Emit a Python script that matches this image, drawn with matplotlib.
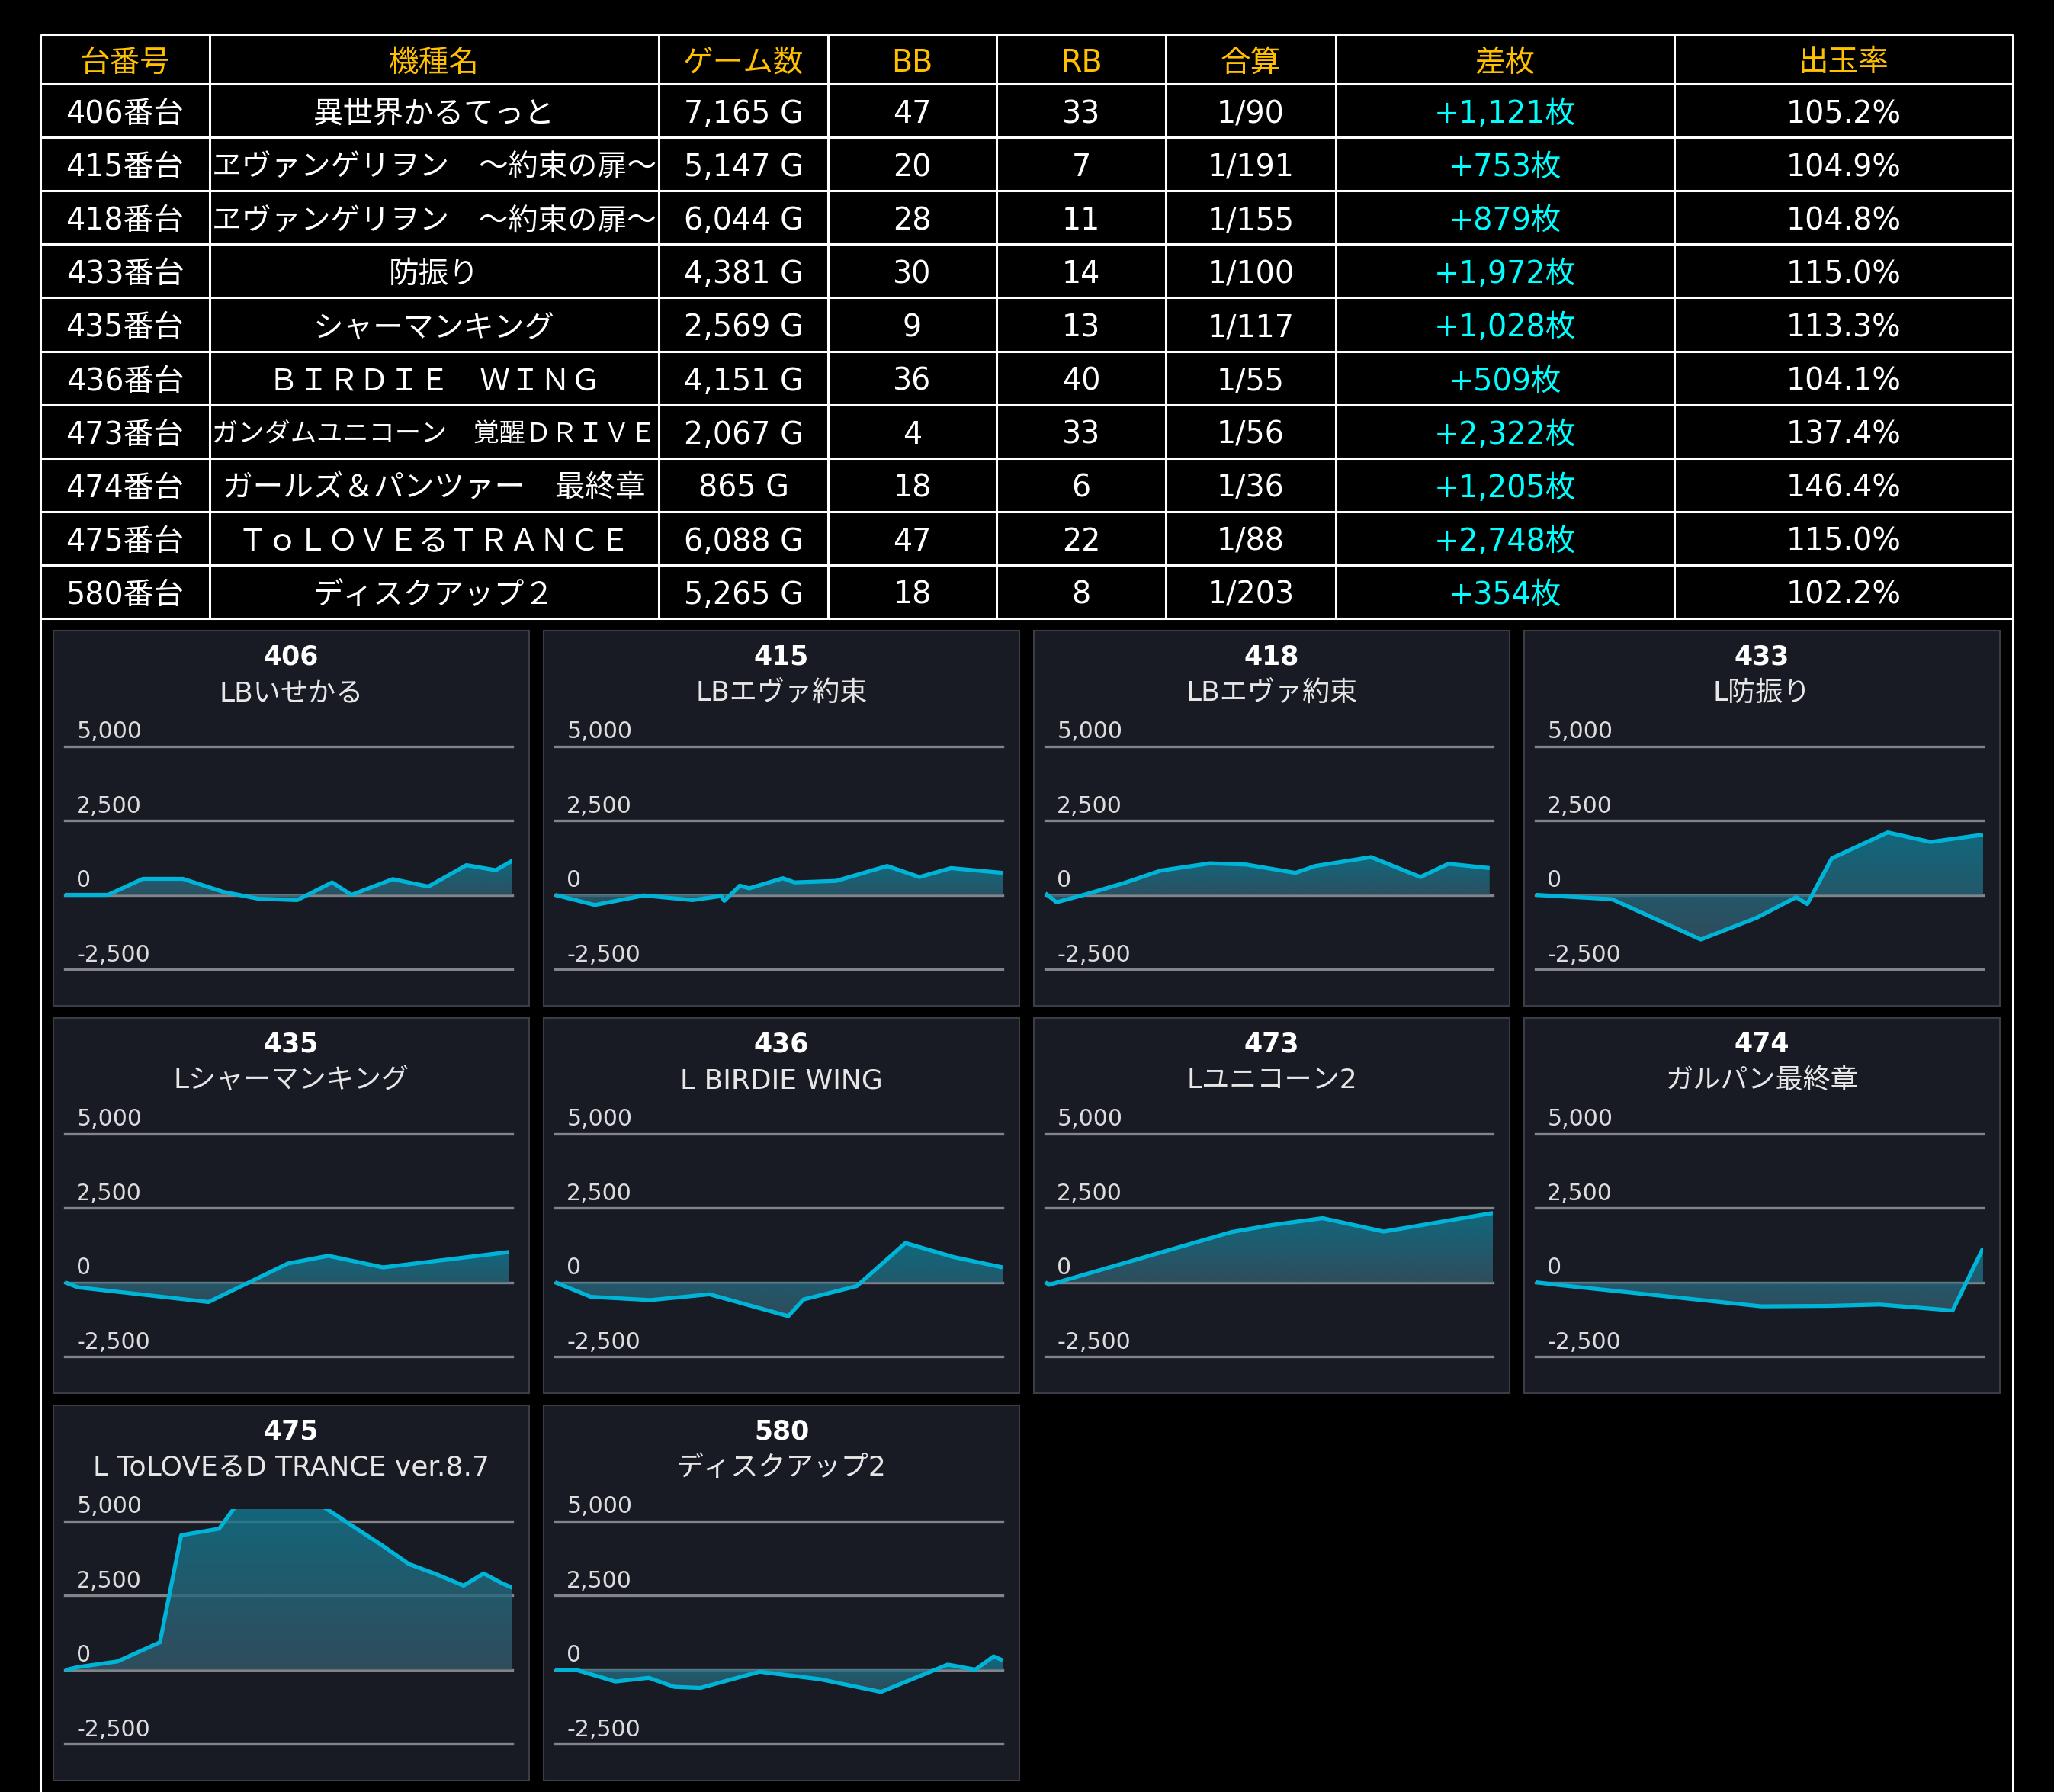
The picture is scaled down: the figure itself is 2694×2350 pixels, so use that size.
import matplotlib
matplotlib.use("Agg")
import matplotlib.pyplot as plt
import numpy as np
from matplotlib.patches import Rectangle
from matplotlib.colors import to_rgb

# ---------------- data ----------------
machine_ids = ['406番台', '415番台', '418番台', '433番台', '435番台',
               '436番台', '473番台', '474番台', '475番台', '580番台']
machine_names = ['異世界かるてっと', 'ヱヴァンゲリヲン　～約束の扉～', 'ヱヴァンゲリヲン　～約束の扉～',
                 '防振り', 'シャーマンキング', 'ＢＩＲＤＩＥ　ＷＩＮＧ',
                 'ガンダムユニコーン　覚醒ＤＲＩＶＥ', 'ガールズ＆パンツァー　最終章',
                 'ＴｏＬＯＶＥるＴＲＡＮＣＥ', 'ディスクアップ２']
games = [7165, 5147, 6044, 4381, 2569, 4151, 2067, 865, 6088, 5265]
bb = [47, 20, 28, 30, 9, 36, 4, 18, 47, 18]
rb = [33, 7, 11, 14, 13, 40, 33, 6, 22, 8]
combined = [90, 191, 155, 100, 117, 55, 56, 36, 88, 203]
diff = [1121, 753, 879, 1972, 1028, 509, 2322, 1205, 2748, 354]
payout = [105.2, 104.9, 104.8, 115.0, 113.3, 104.1, 137.4, 146.4, 115.0, 102.2]
headers = ['台番号', '機種名', 'ゲーム数', 'BB', 'RB', '合算', '差枚', '出玉率']

chart_titles = ['406', '415', '418', '433', '435', '436', '473', '474', '475', '580']
chart_subtitles = ['LBいせかる', 'LBエヴァ約束', 'LBエヴァ約束', 'L防振り', 'Lシャーマンキング',
                   'L BIRDIE WING', 'Lユニコーン2', 'ガルパン最終章',
                   'L ToLOVEるD TRANCE ver.8.7', 'ディスクアップ2']

s406_x = [0, 690, 1250, 1890, 2540, 3100, 3720, 4280, 4590, 5250, 5820, 6430, 6900, 7165]
s406_y = [0, 0, 540, 540, 100, -130, -175, 420, 0, 530, 280, 1000, 830, 1150]
s415_x = [0, 457, 1023, 1580, 1910, 1946, 2125, 2234, 2620, 2754, 3232, 3819, 4190, 4555, 5147]
s415_y = [0, -340, -20, -175, -40, -200, 310, 220, 560, 420, 470, 970, 600, 900, 740]
s418_x = [0, 151, 534, 1066, 1555, 2222, 2711, 3378, 3644, 4400, 5066, 5444, 6000]
s418_y = [55, -250, 10, 400, 815, 1060, 1020, 740, 970, 1270, 600, 1045, 900]
s433_x = [0, 748, 1617, 2164, 2552, 2660, 2900, 3447, 3866, 4381]
s433_y = [0, -145, -1500, -770, -80, -310, 1230, 2100, 1780, 2025]
s435_x = [0, 75, 825, 1280, 1513, 1827, 2551]
s435_y = [0, -170, -665, 630, 890, 500, 1017]
s436_x = [0, 332, 884, 1432, 2163, 2304, 2798, 3250, 3699, 4151]
s436_y = [0, -490, -600, -405, -1140, -580, -130, 1320, 845, 500]
s473_x = [0, 18, 860, 1042, 1281, 1563, 2067]
s473_y = [0, -85, 1690, 1920, 2155, 1705, 2330]
s474_x = [0, 49, 436, 565, 665, 806, 865]
s474_y = [0, -100, -810, -795, -750, -950, 1150]
s475_x = [0, 177, 715, 1294, 1583, 2100, 2411, 2947, 3443, 3939, 4310, 4682, 5053, 5425, 5697, 5943, 6088]
s475_y = [-20, 85, 275, 920, 4520, 4740, 5800, 5900, 5600, 4790, 4190, 3550, 3210, 2825, 3235, 2910, 2755]
s580_x = [0, 261, 709, 1102, 1404, 1710, 2407, 3122, 3834, 4620, 4944, 5159, 5265]
s580_y = [0, -20, -400, -275, -580, -615, -70, -325, -750, 170, 0, 445, 315]

series_x = [s406_x, s415_x, s418_x, s433_x, s435_x, s436_x, s473_x, s474_x, s475_x, s580_x]
series_y = [s406_y, s415_y, s418_y, s433_y, s435_y, s436_y, s473_y, s474_y, s475_y, s580_y]
y_ticks = [-2500, 0, 2500, 5000]
y_tick_labels = ['-2,500', '0', '2,500', '5,000']

# ---------------- layout ----------------
W, H = 2694, 2350
fig = plt.figure(figsize=(W / 100, H / 100), dpi=100, facecolor='black')
bg = fig.add_axes([0, 0, 1, 1])
bg.set_xlim(0, W)
bg.set_ylim(H, 0)
bg.axis('off')
bg.set_facecolor('black')

TABLE_FONT = ['DejaVu Sans', 'Noto Sans CJK JP']
PANEL_FONT = ['DejaVu Sans', 'Noto Sans CJK JP']

col_edges = [53, 275, 864, 1086, 1307, 1529, 1752, 2196, 2640]
table_top, header_bottom, row_h = 45, 110, 70.1
row_edges = [table_top, header_bottom] + [header_bottom + row_h * (i + 1) for i in range(len(machine_ids))]
table_bottom = row_edges[-1]

lw_tab = 2.2
for y in row_edges:
    bg.plot([col_edges[0], col_edges[-1]], [y, y], color='white', lw=lw_tab, solid_capstyle='butt')
for x in col_edges[1:-1]:
    bg.plot([x, x], [table_top, table_bottom], color='white', lw=lw_tab, solid_capstyle='butt')
for x in (col_edges[0], col_edges[-1]):
    bg.plot([x, x], [table_top, H], color='white', lw=lw_tab, solid_capstyle='butt')

fig.canvas.draw()
renderer = fig.canvas.get_renderer()


def cell_text(ci, y_top, y_bot, s, color, size=28.5):
    cx = (col_edges[ci] + col_edges[ci + 1]) / 2
    cy = (y_top + y_bot) / 2 + 5
    t = bg.text(cx, cy, s, color=color, fontsize=size, family=TABLE_FONT, ha='center', va='center')
    avail = col_edges[ci + 1] - col_edges[ci] - 6
    w = t.get_window_extent(renderer).width
    if w > avail:
        t.set_fontsize(size * avail / w)
    return t


gold = '#ffc000'
for ci, h in enumerate(headers):
    cell_text(ci, table_top, header_bottom, h, gold)

for ri in range(len(machine_ids)):
    yt, yb = row_edges[ri + 1], row_edges[ri + 2]
    vals = [machine_ids[ri], machine_names[ri], f'{games[ri]:,} G', str(bb[ri]), str(rb[ri]),
            f'1/{combined[ri]}', f'+{diff[ri]:,}枚', f'{payout[ri]:.1f}%']
    for ci, v in enumerate(vals):
        cell_text(ci, yt, yb, v, '#00ffff' if ci == 6 else 'white')

# ---------------- panels ----------------
panel_w, panel_h = 624, 492
panel_x0, panel_dx = 70, 643
panel_y0, panel_dy = 827, 508
grid_left, grid_right = 15, 602
plot_top, plot_bot = 136, 444
y_lo, y_hi = -2500, 5400

panel_bg = '#181b24'
line_color = '#00b4d8'
grad_top = np.array(to_rgb('#107c95'))
grad_bot = np.array(to_rgb('#36596a'))

for i in range(len(chart_titles)):
    r, c = divmod(i, 4)
    px = panel_x0 + c * panel_dx
    py = panel_y0 + r * panel_dy
    bg.add_patch(Rectangle((px, py), panel_w, panel_h, facecolor=panel_bg,
                           edgecolor='#3a3d46', lw=1.5, zorder=1))
    bg.text(px + panel_w / 2, py + 34, chart_titles[i], color='white', fontsize=25,
            fontweight='bold', family=PANEL_FONT, ha='center', va='center', zorder=3)
    bg.text(px + panel_w / 2, py + 82, chart_subtitles[i], color='#e6e6e6', fontsize=26,
            family=PANEL_FONT, ha='center', va='center', zorder=3)

    ax = fig.add_axes([(px + grid_left) / W, 1 - (py + plot_bot) / H,
                       (grid_right - grid_left) / W, (plot_bot - plot_top) / H])
    ax.patch.set_alpha(0)
    ax.axis('off')
    xs = np.array(series_x[i], dtype=float)
    ys = np.array(series_y[i], dtype=float)
    xmax = games[i]

    for v, lab in zip(y_ticks, y_tick_labels):
        ax.axhline(v, color='#82848a', lw=2.4, zorder=1, clip_on=False)
        ax.annotate(lab, xy=(0, v), xycoords=('axes fraction', 'data'),
                    xytext=(11, 7.5), textcoords='offset points', color='#dcdcdc',
                    fontsize=21.5, family=PANEL_FONT, ha='left', va='baseline', zorder=4,
                    annotation_clip=False)

    poly = ax.fill_between(xs, ys, 0, facecolor='none', edgecolor='none')
    ymin_s = min(0.0, ys.min())
    ymax_s = max(0.0, ys.max())
    n = 256
    tt = np.linspace(0, 1, n)[:, None]
    rgb = grad_bot[None, :] * (1 - tt) + grad_top[None, :] * tt
    rgba = np.concatenate([rgb, np.full((n, 1), 0.8)], axis=1)[:, None, :]
    im = ax.imshow(rgba, extent=[0, xmax, ymin_s, ymax_s], origin='lower',
                   aspect='auto', zorder=2, interpolation='bilinear')
    im.set_clip_path(poly.get_paths()[0], transform=ax.transData)
    ax.plot(xs, ys, color=line_color, lw=3.8, zorder=3, solid_joinstyle='round',
            solid_capstyle='butt')
    ax.set_xlim(0, xmax)
    ax.set_ylim(y_lo, y_hi)

fig.savefig('out.png', dpi=100, facecolor='black')
